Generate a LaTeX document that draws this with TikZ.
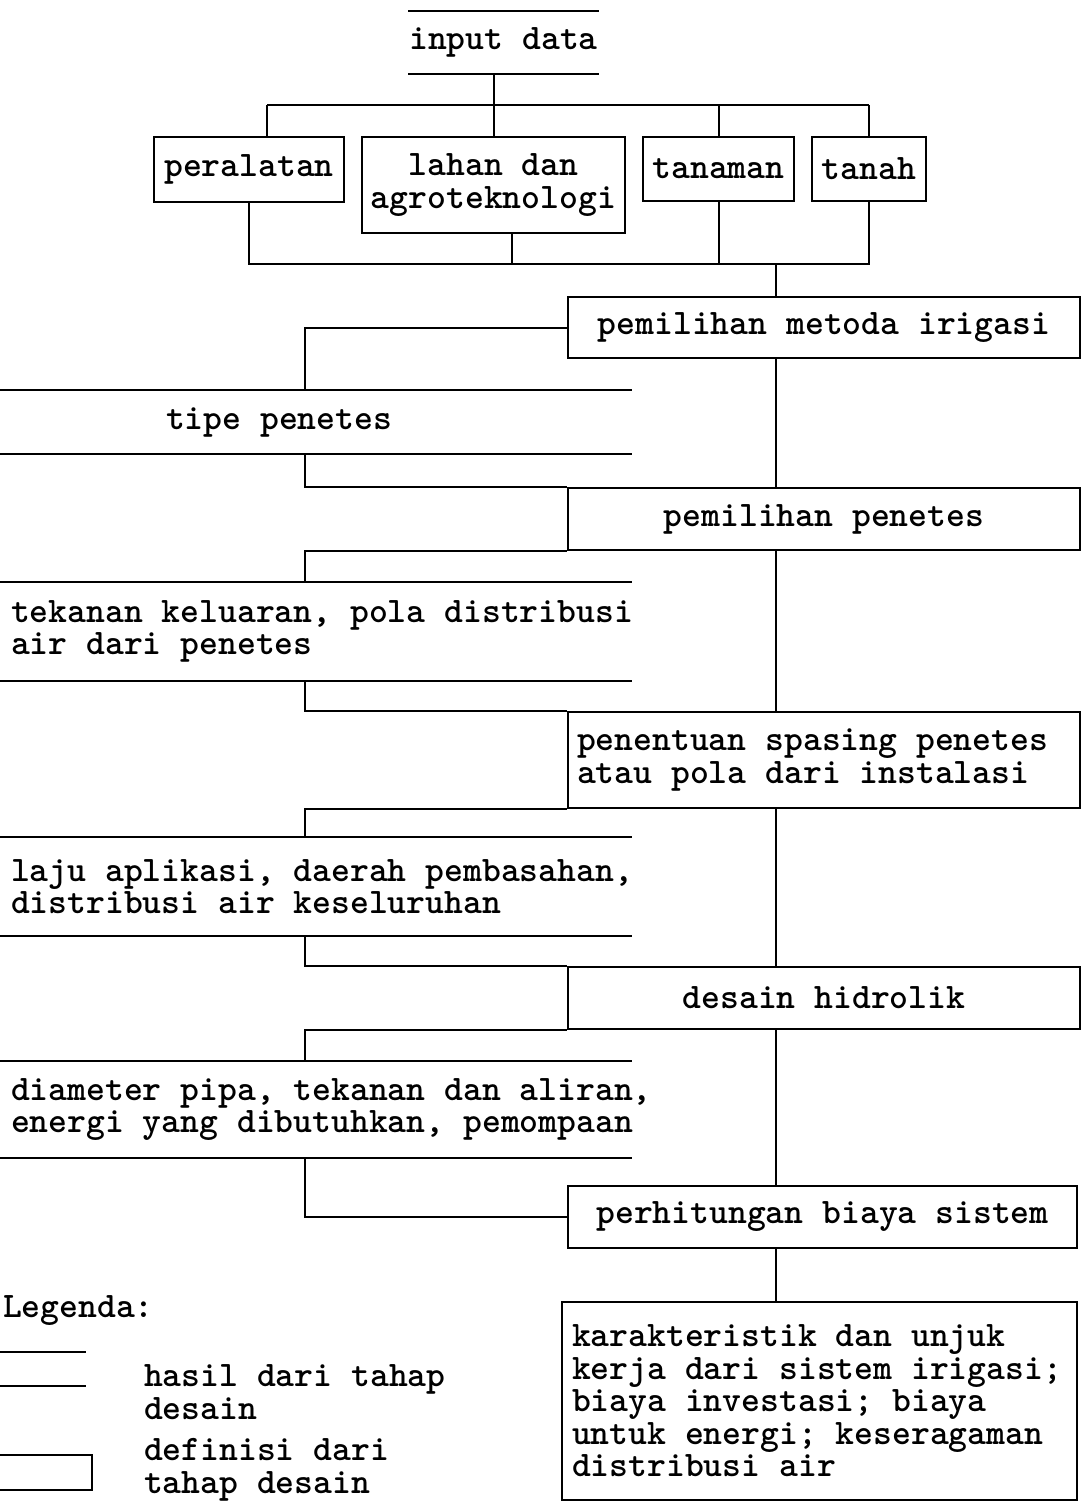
\documentclass[tikz,border=0pt]{standalone}
\usepackage{fontspec}

\tikzset{
  tahap/.style={draw, align=center},   % definisi dari tahap desain
  hasil/.style={anchor=west, align=left},   % hasil dari tahap desain
  ket/.style={anchor=west, align=left},
  kiriteks/.style={align=left, execute at begin node={\spaceskip=0pt\xspaceskip=0pt}}
}

\begin{document}
\begin{tikzpicture}[x=1pt, y=-1pt, line width=2pt,
  every node/.style={inner sep=0pt, font=\ttfamily\bfseries\fontsize{35.9}{32.5}\selectfont}]
	\useasboundingbox (0,0) rectangle (1085,1507);

	% input data
	\node[minimum width=187pt, minimum height=61pt] (input) at (503.5,42.5) {input data};
	\draw (input.north west) -- (input.north east) (input.south west) -- (input.south east);

	% data
	\node[tahap, minimum width=190pt, minimum height=65pt] (peralatan) at (249,169.5) {peralatan};
	\node[tahap, minimum width=263pt, minimum height=96pt] (lahan) at (493.5,185) {lahan dan\\agroteknologi};
	\node[tahap, minimum width=151pt, minimum height=64pt] (tanaman) at (718.5,169) {tanaman};
	\node[tahap, minimum width=114pt, minimum height=64pt] (tanah) at (869,169) {tanah};

	\coordinate (atasL) at (267,105);
	\coordinate (atasR) at (869,105);
	\coordinate (bawahL) at (249,264);
	\coordinate (bawahR) at (869,264);
	\draw (atasL) -- (atasR);
	\draw (atasL) -- (atasL |- peralatan.north);
	\draw (input.south -| lahan.north) -- (lahan.north);
	\draw (atasR -| tanaman.north) -- (tanaman.north);
	\draw (atasR) -- (tanah.north);
	\draw (peralatan.south) -- (bawahL) -- (bawahR) -- (tanah.south);
	\draw ([xshift=18.5pt]lahan.south) -- ([xshift=18.5pt]lahan.south |- bawahL);
	\draw (tanaman.south) -- (tanaman.south |- bawahL);

	% tahap desain
	\node[tahap, minimum width=512pt, minimum height=61pt] (metoda) at (824,327.5) {pemilihan metoda irigasi};
	\node[tahap, minimum width=512pt, minimum height=62pt] (penetes) at (824,519) {pemilihan penetes};
	\node[tahap, kiriteks, text width=494pt, inner xsep=9pt, minimum height=96pt] (spasing) at (824,760) {penentuan spasing penetes\\atau pola dari instalasi};
	\node[tahap, minimum width=512pt, minimum height=62pt] (desain) at (824,998) {desain hidrolik};
	\node[tahap, minimum width=509pt, minimum height=62pt] (biaya) at (822.5,1217) {perhitungan biaya sistem};
	\node[tahap, kiriteks, text width=495pt, inner xsep=10pt, minimum height=198pt] (akhir) at (819.5,1401) {karakteristik dan unjuk\\kerja dari sistem irigasi;\\biaya investasi; biaya\\untuk energi; keseragaman\\distribusi air};

	% hasil
	\node[hasil, minimum height=62pt] (tipe) at (165,422) {tipe penetes};
	\node[hasil, minimum height=97pt] (tekanan) at (10,631.5) {tekanan keluaran, pola distribusi\\air dari penetes};
	\node[hasil, minimum height=97pt] (laju) at (10,886.5) {laju aplikasi, daerah pembasahan,\\distribusi air keseluruhan};
	\node[hasil, minimum height=95pt] (diameter) at (10,1109.5) {diameter pipa, tekanan dan aliran,\\energi yang dibutuhkan, pemompaan};

	\coordinate (kiri) at (0,0);
	\coordinate (kanan) at (632,0);
	\foreach \n in {tipe,tekanan,laju,diameter}
		\draw (\n.north -| kiri) -- (\n.north -| kanan) (\n.south -| kiri) -- (\n.south -| kanan);

	% alur utama
	\coordinate (tulang) at (776,264);
	\draw (tulang) -- (tulang |- metoda.north);
	\foreach \a/\b in {metoda/penetes, penetes/spasing, spasing/desain, desain/biaya, biaya/akhir}
		\draw (\a.south -| tulang) -- (\b.north -| tulang);

	% cabang kiri
	\coordinate (brk) at (305,0);
	\draw (metoda.west) -| (tipe.north -| brk);
	\draw (tipe.south -| brk) |- (penetes.north west);
	\draw (penetes.south west) -| (tekanan.north -| brk);
	\draw (tekanan.south -| brk) |- (spasing.north west);
	\draw (spasing.south west) -| (laju.north -| brk);
	\draw (laju.south -| brk) |- (desain.north west);
	\draw (desain.south west) -| (diameter.north -| brk);
	\draw (diameter.south -| brk) |- (biaya.west);

	% legenda
	\node[anchor=west] (legenda) at (2,1311) {Legenda:};
	\node[minimum width=105pt, minimum height=32pt] (symhasil) at (32.5,1369) {};
	\draw (symhasil.north west) -- (symhasil.north east) (symhasil.south west) -- (symhasil.south east);
	\node[ket] (kethasil) at (143,1392) {hasil dari tahap\\desain};
	\node[tahap, minimum width=112pt, minimum height=35pt] (symdef) at (36,1472) {};
	\node[ket] (ketdef) at (143,1470) {definisi dari\\tahap desain};

\end{tikzpicture}
\end{document}
